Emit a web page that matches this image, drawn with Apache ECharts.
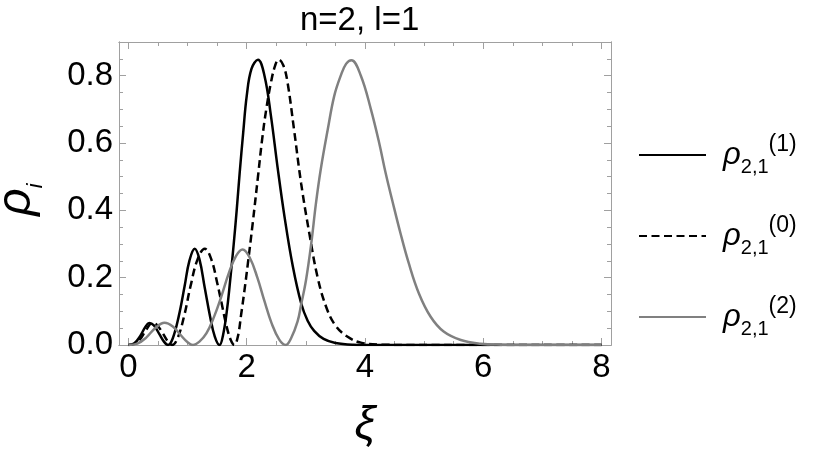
<!DOCTYPE html>
<html><head><meta charset="utf-8">
<script src="https://cdn.jsdelivr.net/npm/echarts@6/dist/echarts.min.js"></script>
<style>html,body{margin:0;padding:0;background:#fff}#c{width:830px;height:460px}</style>
</head><body><div id="c"></div>
<script>
// ρ_{2,1}^(1)  (solid black)
const xiSolid  = [0, 0.1, 0.2, 0.28, 0.35, 0.43, 0.52, 0.6, 0.67, 0.75, 0.85, 0.95, 1.03, 1.12, 1.2, 1.29, 1.38, 1.46, 1.54, 1.6, 1.67, 1.73, 1.78, 1.83, 1.88, 1.94, 2.0, 2.08, 2.19, 2.3, 2.41, 2.52, 2.64, 2.78, 2.92, 3.03, 3.14, 3.3, 3.5, 3.8, 4.2, 5, 6, 7, 8];
const rhoSolid = [0, 0.005, 0.027, 0.052, 0.065, 0.058, 0.033, 0.01, 0, 0.02, 0.085, 0.175, 0.25, 0.286, 0.255, 0.17, 0.085, 0.025, 0, 0.03, 0.11, 0.21, 0.3, 0.4, 0.51, 0.63, 0.74, 0.82, 0.847, 0.8, 0.68, 0.53, 0.38, 0.233, 0.124, 0.072, 0.042, 0.018, 0.006, 0.001, 0, 0, 0, 0, 0];
// ρ_{2,1}^(0)  (dashed black)
const xiDashed  = [0, 0.1, 0.2, 0.3, 0.4, 0.48, 0.58, 0.67, 0.74, 0.83, 0.94, 1.05, 1.17, 1.29, 1.4, 1.5, 1.58, 1.66, 1.73, 1.79, 1.85, 1.905, 1.96, 2.02, 2.1, 2.19, 2.26, 2.33, 2.41, 2.48, 2.54, 2.62, 2.69, 2.8, 2.92, 3.06, 3.2, 3.35, 3.5, 3.7, 3.93, 4.3, 4.8, 6, 7, 8];
const rhoDashed = [0, 0.003, 0.018, 0.045, 0.065, 0.06, 0.035, 0.01, 0, 0.02, 0.085, 0.175, 0.255, 0.286, 0.255, 0.185, 0.12, 0.055, 0.015, 0, 0.025, 0.09, 0.16, 0.243, 0.36, 0.5, 0.61, 0.7, 0.78, 0.83, 0.848, 0.83, 0.78, 0.64, 0.48, 0.33, 0.2, 0.11, 0.058, 0.025, 0.007, 0.001, 0, 0, 0, 0];
// ρ_{2,1}^(2)  (solid gray)
const xiGray  = [0, 0.15, 0.3, 0.45, 0.61, 0.75, 0.88, 1.0, 1.09, 1.2, 1.32, 1.45, 1.57, 1.7, 1.82, 1.93, 2.05, 2.18, 2.3, 2.42, 2.55, 2.66, 2.75, 2.86, 2.92, 3.0, 3.09, 3.17, 3.25, 3.37, 3.48, 3.59, 3.68, 3.77, 3.93, 4.1, 4.24, 4.35, 4.46, 4.6, 4.74, 4.91, 5.11, 5.33, 5.62, 5.95, 6.3, 7, 8];
const rhoGray = [0, 0.004, 0.022, 0.05, 0.066, 0.055, 0.03, 0.008, 0, 0.01, 0.035, 0.085, 0.144, 0.215, 0.265, 0.284, 0.26, 0.2, 0.13, 0.065, 0.016, 0, 0.02, 0.07, 0.12, 0.19, 0.3, 0.42, 0.52, 0.64, 0.74, 0.8, 0.835, 0.846, 0.8, 0.7, 0.6, 0.51, 0.43, 0.332, 0.243, 0.154, 0.084, 0.04, 0.015, 0.004, 0.001, 0, 0];

const seriesNames = ['rho1', 'rho0', 'rho2'];
const legendSup   = ['(1)', '(0)', '(2)'];
const xMajorTicks = [0, 2, 4, 6, 8];
const xMinorTicks = [0.5, 1, 1.5, 2.5, 3, 3.5, 4.5, 5, 5.5, 6.5, 7, 7.5];
const yMajorTicks = [0, 0.2, 0.4, 0.6, 0.8];
const yMinorTicks = [0.05, 0.1, 0.15, 0.25, 0.3, 0.35, 0.45, 0.5, 0.55, 0.65, 0.7, 0.75, 0.85];
const titleText = 'n=2, l=1';

const zip = (a, b) => a.map((v, i) => [v, b[i]]);
const FONT = 'Liberation Sans, Arial, sans-serif';
const FRAME = '#a0a0a0';

function xAx(pos, ticks, len, labels) {
  return {
    type: 'value', position: pos, min: -0.16, max: 8.16,
    axisLine: { show: true, onZero: false, lineStyle: { color: FRAME, width: 1 } },
    axisTick: { show: true, inside: true, length: len, customValues: ticks, lineStyle: { color: FRAME, width: 1 } },
    axisLabel: labels ? { show: true, customValues: xMajorTicks, fontSize: 33, color: '#000', fontFamily: FONT, margin: 6 } : { show: false },
    splitLine: { show: false }
  };
}
function yAx(pos, ticks, len, labels) {
  return {
    type: 'value', position: pos, min: 0, max: 0.9,
    axisLine: { show: true, onZero: false, lineStyle: { color: FRAME, width: 1 } },
    axisTick: { show: true, inside: true, length: len, customValues: ticks, lineStyle: { color: FRAME, width: 1 } },
    axisLabel: labels ? { show: true, customValues: yMajorTicks, fontSize: 33, color: '#000', fontFamily: FONT, margin: 6,
      formatter: v => v.toFixed(1) } : { show: false },
    splitLine: { show: false }
  };
}

const xAxes = [xAx('bottom', xMajorTicks, 7, true), xAx('bottom', xMinorTicks, 4, false), xAx('top', xMajorTicks, 7, false), xAx('top', xMinorTicks, 4, false)];
xAxes[0].name = 'ξ';
xAxes[0].nameLocation = 'middle';
xAxes[0].nameGap = 57;
xAxes[0].nameTextStyle = { fontSize: 47, fontStyle: 'italic', color: '#000', fontFamily: FONT };

const yAxes = [yAx('left', yMajorTicks, 7, true), yAx('left', yMinorTicks, 4, false), yAx('right', yMajorTicks, 7, false), yAx('right', yMinorTicks, 4, false)];
yAxes[0].name = '{r|ρ}{s|i}';
yAxes[0].nameLocation = 'middle';
yAxes[0].nameRotate = 90;
yAxes[0].nameGap = 72;
yAxes[0].nameTextStyle = { color: '#000', fontFamily: FONT, rich: {
  r: { fontSize: 48, fontStyle: 'italic', fontFamily: FONT, color: '#000', lineHeight: 60 },
  s: { fontSize: 22, fontStyle: 'italic', fontFamily: FONT, color: '#000', lineHeight: 24, verticalAlign: 'bottom', padding: [0, 12, 0, 0] }
}};

const chart = echarts.init(document.getElementById('c'), null, { renderer: 'canvas' });
chart.setOption({
  animation: false,
  backgroundColor: '#fff',
  title: { text: titleText, left: 300, top: 4, padding: 0,
    textStyle: { fontSize: 33, fontWeight: 'normal', color: '#000', fontFamily: FONT } },
  grid: { left: 119, right: 219, top: 42, bottom: 115, containLabel: false, outerBoundsMode: 'none' },
  legend: {
    orient: 'vertical', left: 638, top: 133, padding: 0,
    itemWidth: 67, itemHeight: 14, itemGap: 37, selectedMode: false,
    itemStyle: { opacity: 0, borderWidth: 0 },
    data: seriesNames,
    formatter: name => '{r|ρ}{b|2,1}{p|' + legendSup[seriesNames.indexOf(name)] + '}',
    textStyle: { color: '#000', fontFamily: FONT, rich: {
      r: { fontSize: 31, fontStyle: 'italic', fontFamily: FONT, color: '#000', lineHeight: 44, padding: [0, 0, 0, 12] },
      b: { fontSize: 20, fontFamily: FONT, color: '#000', lineHeight: 25, verticalAlign: 'bottom' },
      p: { fontSize: 23, fontFamily: FONT, color: '#000', lineHeight: 22, verticalAlign: 'top' }
    } }
  },
  xAxis: xAxes,
  yAxis: yAxes,
  series: [
    { name: seriesNames[0], type: 'line', data: zip(xiSolid, rhoSolid), smooth: 0.4, symbol: 'none',
      lineStyle: { color: '#000', width: 2.5 }, itemStyle: { color: '#000' }, z: 3 },
    { name: seriesNames[1], type: 'line', data: zip(xiDashed, rhoDashed), smooth: 0.4, symbol: 'none',
      lineStyle: { color: '#000', width: 2.5, type: [8, 4.5] }, itemStyle: { color: '#000' }, z: 3 },
    { name: seriesNames[2], type: 'line', data: zip(xiGray, rhoGray), smooth: 0.4, symbol: 'none',
      lineStyle: { color: '#808080', width: 2.5 }, itemStyle: { color: '#808080' }, z: 3 }
  ]
});
</script></body></html>
